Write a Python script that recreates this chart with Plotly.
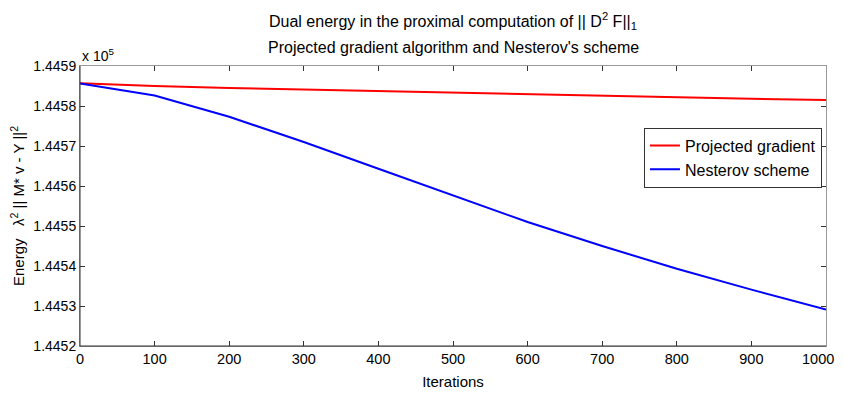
import plotly.graph_objects as go

iterations = [0, 100, 200, 300, 400, 500, 600, 700, 800, 900, 1000]
# energy values in units of 1e5
projected_gradient = [1.445857, 1.445850, 1.445845, 1.445841, 1.445837, 1.445833,
                      1.445829, 1.445825, 1.445822, 1.445818, 1.445815]
nesterov = [1.445856, 1.445826, 1.445773, 1.445710, 1.445643, 1.445577,
            1.445510, 1.445450, 1.445393, 1.445341, 1.445291]
x_ticks = [0, 100, 200, 300, 400, 500, 600, 700, 800, 900, 1000]
x_tick_labels = ["0", "100", "200", "300", "400", "500", "600", "700", "800", "900", "1000"]
y_ticks = [1.4452, 1.4453, 1.4454, 1.4455, 1.4456, 1.4457, 1.4458, 1.4459]

FONT = "Liberation Sans, Arial, sans-serif"

# page body has an 8px margin; figure sized so the page does not overflow
W, H = 836, 386
L, R, T, B = 72, 18, 58, 48
PH = H - T - B


def py(fig_y):
    return (H - B - fig_y) / PH


fig = go.Figure()
fig.add_trace(go.Scatter(x=iterations, y=projected_gradient, mode="lines",
                         name="Projected gradient", line=dict(color="#ff0000", width=2)))
fig.add_trace(go.Scatter(x=iterations, y=nesterov, mode="lines",
                         name="Nesterov scheme", line=dict(color="#0000ff", width=2)))

# last x tick label is drawn as an annotation, nudged so it stays inside the window
tick_text = x_tick_labels[:-1] + [""]

fig.update_layout(
    width=W, height=H,
    margin=dict(l=L, r=R, t=T, b=B, autoexpand=False),
    paper_bgcolor="white", plot_bgcolor="white",
    font=dict(family=FONT, size=14, color="black"),
    showlegend=True,
    legend=dict(x=0.9946, xanchor="right", y=0.78, yanchor="top",
                bgcolor="white", bordercolor="#333333", borderwidth=1,
                font=dict(family=FONT, size=16), tracegroupgap=0,
                itemwidth=30),
    xaxis=dict(range=[0, 1000], tickvals=x_ticks, ticktext=tick_text,
               ticks="inside", ticklen=5, tickcolor="#333333",
               showline=True, linecolor="#999999", mirror="ticks",
               showgrid=False, zeroline=False, automargin=False,
               tickfont=dict(size=14.5),
               title=dict(text="Iterations", standoff=10, font=dict(size=15))),
    yaxis=dict(range=[1.4452, 1.4459], tickvals=y_ticks, ticktext=[f"{v:.4f}" for v in y_ticks],
               ticks="inside", ticklen=5, tickcolor="#333333",
               showline=True, linecolor="#999999", mirror="ticks",
               showgrid=False, zeroline=False, automargin=False,
               tickfont=dict(size=14),
               title=dict(text="Energy   λ<sup>2</sup> || M* v - Y ||<sup>2</sup>", standoff=6,
                          font=dict(size=15))),
    shapes=[
        dict(type="line", xref="paper", yref="paper", x0=0, x1=1, y0=0, y1=0,
             line=dict(color="#333333", width=1), layer="above"),
        dict(type="line", xref="paper", yref="paper", x0=0, x1=0, y0=0, y1=1,
             line=dict(color="#333333", width=1), layer="above"),
    ],
    annotations=[
        dict(text="Dual energy in the proximal computation of || D<sup>2</sup> F||<sub>1</sub>",
             xref="paper", yref="paper", x=0.5, y=py(13), xanchor="center", yanchor="middle",
             showarrow=False, font=dict(family=FONT, size=16)),
        dict(text="Projected gradient algorithm and Nesterov's scheme",
             xref="paper", yref="paper", x=0.5, y=py(39), xanchor="center", yanchor="middle",
             showarrow=False, font=dict(family=FONT, size=16)),
        dict(text="x 10<sup>5</sup>", xref="paper", yref="paper", x=0.0, y=1.0,
             xanchor="left", yanchor="bottom", showarrow=False,
             font=dict(family=FONT, size=14)),
        dict(text=x_tick_labels[-1], xref="x", yref="paper", x=x_ticks[-1], y=0,
             xanchor="right", yanchor="middle", xshift=10, yshift=-13,
             showarrow=False, font=dict(family=FONT, size=14.5)),
    ],
)

fig.write_html("out.html")
